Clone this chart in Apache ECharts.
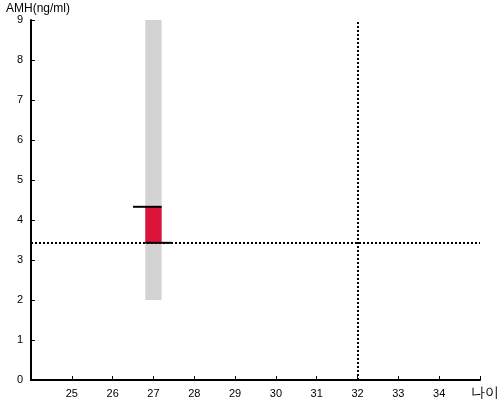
<!DOCTYPE html>
<html><head><meta charset="utf-8">
<script src="https://cdn.jsdelivr.net/npm/echarts@6/dist/echarts.min.js"></script>
<style>html,body{margin:0;padding:0;background:#fff}#c{width:500px;height:400px}</style>
</head><body><div id="c"></div>
<script>
var xTicks = [25,26,27,28,29,30,31,32,33,34];
var yTicks = [0,1,2,3,4,5,6,7,8,9];
var rangeBar = [[27, 2, 9]];          // [age, low, high]
var valueBar = [[27, 3.43, 4.33]];    // [age, low, high]
var capLines = [[26.5, 27.2, 4.33], [26.8, 27.45, 3.43]]; // [x1, x2, y]
var refAge = 32;
var refAmh = 3.43;

var chart = echarts.init(document.getElementById('c'));
function barRender(color) {
  return function (params, api) {
    var p1 = api.coord([api.value(0) - 0.2, api.value(2)]);
    var p2 = api.coord([api.value(0) + 0.2, api.value(1)]);
    return {type: 'rect', shape: {x: p1[0], y: p1[1], width: p2[0] - p1[0], height: p2[1] - p1[1]}, style: {fill: color}};
  };
}
chart.setOption({
  animation: false,
  grid: {left: 31, right: 20, top: 20, bottom: 20, containLabel: false, outerBoundsMode: 'none'},
  xAxis: {
    type: 'value', min: 24, max: 35, interval: 1,
    name: '나이', nameLocation: 'end', nameGap: -9,
    nameTextStyle: {color: '#000', fontSize: 14, align: 'left', verticalAlign: 'top', padding: [6, 0, 0, 0]},
    axisLine: {lineStyle: {color: '#000', width: 2}},
    axisTick: {inside: true, length: 4, lineStyle: {color: '#000'}},
    axisLabel: {color: '#000', fontSize: 11, formatter: function (v) { return xTicks.indexOf(v) >= 0 ? String(v) : ''; }},
    splitLine: {show: false}
  },
  yAxis: {
    type: 'value', min: 0, max: 9, interval: 1,
    name: 'AMH(ng/ml)', nameLocation: 'end', nameGap: 4,
    nameTextStyle: {color: '#000', fontSize: 12, align: 'left', padding: [0, 0, 0, -25]},
    axisLine: {show: true, lineStyle: {color: '#000', width: 2}},
    axisTick: {show: true, inside: true, length: 4, lineStyle: {color: '#000'}},
    axisLabel: {color: '#000', fontSize: 11, formatter: function (v) { return yTicks.indexOf(v) >= 0 ? String(v) : ''; }},
    splitLine: {show: false}
  },
  series: [
    {type: 'custom', data: rangeBar, renderItem: barRender('#d3d3d3'), z: 1},
    {type: 'custom', data: valueBar, renderItem: barRender('#dc143c'), z: 2},
    {type: 'custom', data: capLines, z: 3, renderItem: function (params, api) {
      var a = api.coord([api.value(0), api.value(2)]);
      var b = api.coord([api.value(1), api.value(2)]);
      return {type: 'line', shape: {x1: a[0], y1: a[1], x2: b[0], y2: b[1]}, style: {stroke: '#000', lineWidth: 2}};
    }},
    {type: 'line', data: [], markLine: {
      silent: true, symbol: 'none', label: {show: false},
      lineStyle: {color: '#000', type: [2, 2], width: 2},
      data: [{xAxis: refAge}, {yAxis: refAmh}]
    }}
  ]
});
</script></body></html>
